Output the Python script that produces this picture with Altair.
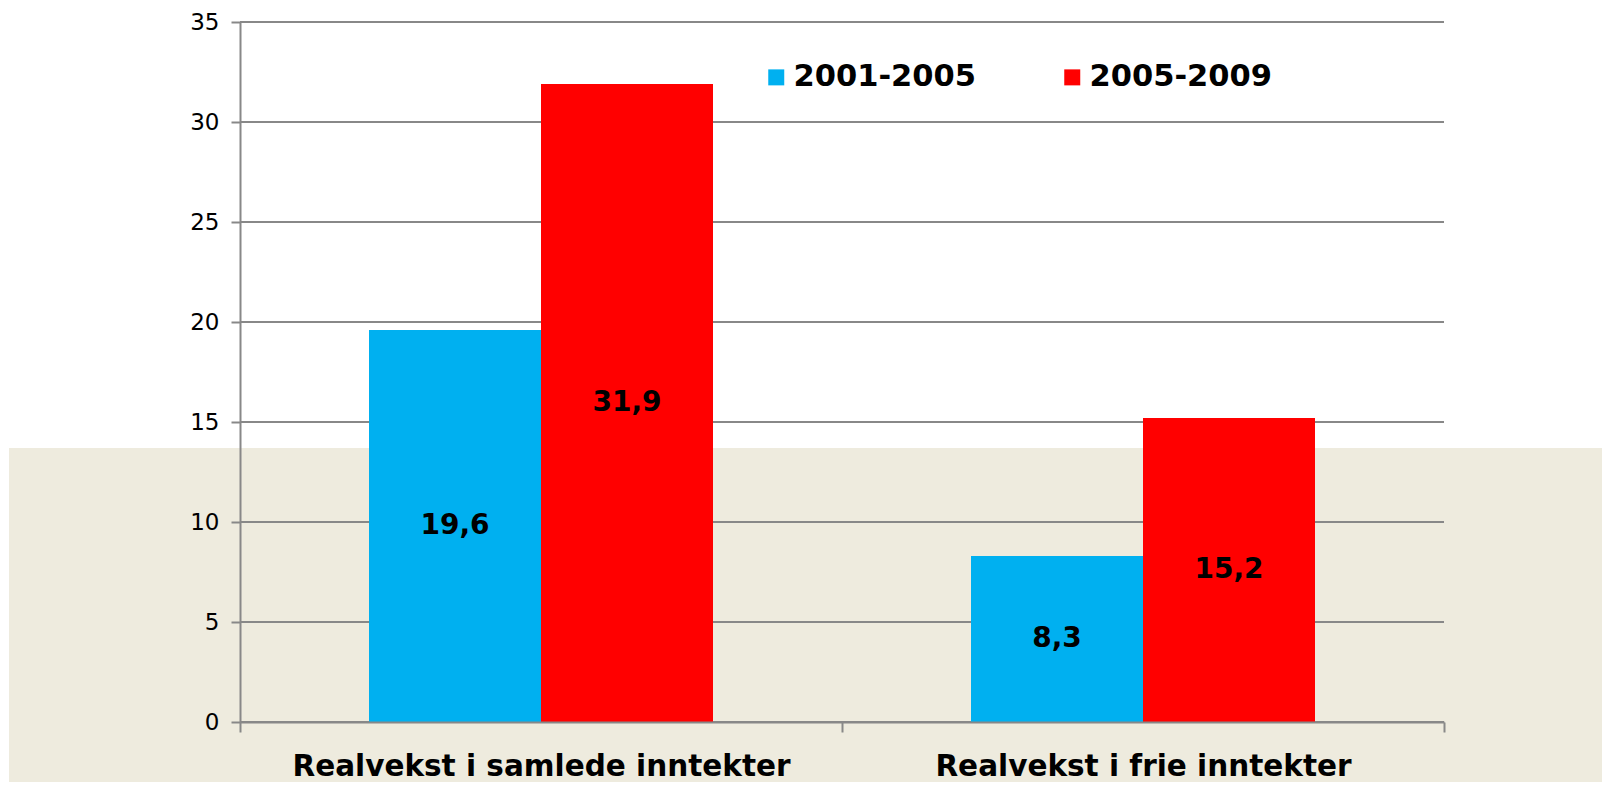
import altair as alt
import pandas as pd

categories = ["Realvekst i samlede inntekter", "Realvekst i frie inntekter"]
periods = ["2001-2005", "2005-2009"]
growth_2001_2005 = [19.6, 8.3]
growth_2005_2009 = [31.9, 15.2]
y_ticks = [0, 5, 10, 15, 20, 25, 30, 35]
colors = ["#00B0F0", "#FF0000"]

rows = []
for i, c in enumerate(categories):
    rows.append({"kategori": c, "periode": periods[0], "verdi": growth_2001_2005[i]})
    rows.append({"kategori": c, "periode": periods[1], "verdi": growth_2005_2009[i]})
df = pd.DataFrame(rows)
df["midt"] = df["verdi"] / 2
df["etikett"] = df["verdi"].map(lambda v: f"{v:.1f}".replace(".", ","))

FONT = "DejaVu Sans"
GREY = "#888888"

x_axis = alt.Axis(
    labelAngle=0, labelFont=FONT, labelFontWeight="bold", labelFontSize=29.5,
    labelColor="black", labelLimit=0, domainColor=GREY, domainWidth=2,
    tickColor=GREY, tickWidth=2, tickSize=10, tickBand="extent",
    labelPadding=20, grid=False, zindex=2,
)
y_axis = alt.Axis(
    values=y_ticks, labelFont=FONT, labelFontSize=23, labelColor="black",
    domainColor=GREY, domainWidth=2, tickColor=GREY, tickWidth=2, tickSize=9,
    labelPadding=12, grid=False, zindex=2,
)

x_enc = alt.X("kategori:N", sort=categories, title=None, axis=x_axis,
              scale=alt.Scale(paddingInner=0, paddingOuter=0))
xoff_enc = alt.XOffset("periode:N", sort=periods,
                       scale=alt.Scale(paddingInner=0, paddingOuter=0.75))
y_scale = alt.Scale(domain=[0, 35], nice=False)

# decorative beige panel behind the lower part of the chart
beige = alt.Chart(pd.DataFrame({"a": [0]})).mark_rect(color="#EEEBDE").encode(
    x=alt.value(-231), x2=alt.value(1400), y=alt.value(426), y2=alt.value(800)
)

grid = alt.Chart(pd.DataFrame({"tick": y_ticks})).mark_rule(
    color=GREY, strokeWidth=2
).encode(
    y=alt.Y("tick:Q", scale=y_scale, title=None, axis=y_axis)
)

bars = alt.Chart(df).mark_bar().encode(
    x=x_enc,
    xOffset=xoff_enc,
    y=alt.Y("verdi:Q", scale=y_scale, title=None, axis=y_axis),
    color=alt.Color(
        "periode:N", sort=periods,
        scale=alt.Scale(domain=periods, range=colors),
        legend=alt.Legend(
            title=None, orient="none", legendX=521, legendY=40,
            direction="horizontal", symbolType="square", symbolSize=256,
            symbolStrokeWidth=0, labelFont=FONT, labelFontWeight="bold",
            labelFontSize=30.5, labelColor="black", labelLimit=0,
            columnPadding=81, labelOffset=2, padding=0,
        ),
    ),
)

labels = alt.Chart(df).mark_text(
    font=FONT, fontWeight="bold", fontSize=28, color="black", baseline="middle"
).encode(
    x=x_enc,
    xOffset=xoff_enc,
    y=alt.Y("midt:Q", scale=y_scale, title=None, axis=y_axis),
    text="etikett:N",
)

chart = alt.layer(beige, grid, bars, labels).properties(
    width=1204, height=700,
    padding={"left": 232, "top": 14, "right": 158, "bottom": 60},
    autosize=alt.AutoSizeParams(type="none"),
    background="white",
).configure_view(stroke=None)

chart.save("out.html", embed_options={"renderer": "svg", "actions": False})
